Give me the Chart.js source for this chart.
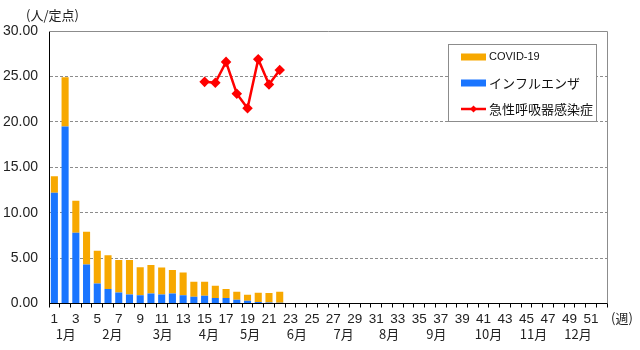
<!DOCTYPE html>
<html>
<head>
<meta charset="utf-8">
<script src="https://cdn.jsdelivr.net/npm/chart.js@4.4.1/dist/chart.umd.min.js"></script>
<style>
  html, body { margin: 0; padding: 0; background: #fff; }
  #wrap { width: 640px; height: 350px; }
</style>
</head>
<body>
<div id="wrap"><canvas id="chart" width="640" height="350"></canvas></div>
<script>
// weeks 1..52
const weeks = Array.from({ length: 52 }, (_, i) => String(i + 1));

// per-sentinel counts, weeks 1-22
const influenza = [12.2, 19.5, 7.8, 4.3, 2.2, 1.6, 1.2, 1.0, 0.9, 1.1, 1.0, 1.1, 0.9, 0.75, 0.85, 0.6, 0.6, 0.4, 0.3, 0.17, 0.1, 0.08];
const covid = [1.8, 5.4, 3.5, 3.6, 3.6, 3.7, 3.6, 3.8, 3.1, 3.15, 2.95, 2.6, 2.5, 1.65, 1.55, 1.35, 1.0, 0.9, 0.65, 1.0, 1.05, 1.2];

// acute respiratory infections, reported from week 15
const ariStartWeek = 15;
const ari = [24.4, 24.3, 26.6, 23.1, 21.5, 26.9, 24.1, 25.7];

const yTicks = [0, 5, 10, 15, 20, 25, 30];

// month names and the week they sit under
const months = ['1月', '2月', '3月', '4月', '5月', '6月', '7月', '8月', '9月', '10月', '11月', '12月'];
const monthAt = [2.06, 6.4, 11.1, 15.4, 19.25, 23.6, 27.95, 32.2, 36.6, 41.45, 45.65, 49.8];

const BLUE = '#1a75ff';
const ORANGE = '#f7a800';
const RED = '#ff0000';
const FONT = '"Liberation Sans", Arial, "Noto Sans CJK JP", sans-serif';
const JFONT = '"Noto Sans CJK JP", "Liberation Sans", sans-serif';

const ariData = weeks.map((w, i) => {
    const k = i + 1 - ariStartWeek;
    return k >= 0 && k < ari.length ? ari[k] : null;
});

// frame, month row, unit labels and the boxed legend
const decorations = {
    id: 'decorations',
    beforeDatasetsDraw(chart) {
        const { ctx, chartArea: a } = chart;
        ctx.save();
        ctx.strokeStyle = '#8c8c8c';
        ctx.lineWidth = 1;
        ctx.beginPath();
        ctx.moveTo(a.left, Math.round(a.top) + 0.5);
        ctx.lineTo(Math.round(a.right) + 0.5, Math.round(a.top) + 0.5);
        ctx.lineTo(Math.round(a.right) + 0.5, a.bottom);
        ctx.stroke();
        ctx.restore();
    },
    afterDraw(chart) {
        const { ctx } = chart;
        const x = chart.scales.x;
        ctx.save();
        ctx.fillStyle = '#222';
        ctx.textBaseline = 'middle';
        ctx.textAlign = 'center';
        ctx.font = '13px ' + JFONT;
        months.forEach((m, i) => {
            ctx.fillText(m, x.getPixelForValue(monthAt[i] - 1), 334);
        });
        ctx.textAlign = 'left';
        ctx.fillText('(週)', 611, 318);
        ctx.fillText('(人/定点)', 26, 15);

        // legend
        const lx = 448, ly = 44, lw = 148, lh = 77;
        ctx.fillStyle = '#fff';
        ctx.fillRect(lx, ly, lw, lh);
        ctx.strokeStyle = '#8c8c8c';
        ctx.lineWidth = 1;
        ctx.strokeRect(lx + 0.5, ly + 0.5, lw, lh);
        const items = [
            { label: chart.data.datasets[1].label, color: ORANGE, kind: 'bar', y: 56.5 },
            { label: chart.data.datasets[0].label, color: BLUE, kind: 'bar', y: 82.5 },
            { label: chart.data.datasets[2].label, color: RED, kind: 'line', y: 109 }
        ];
        items.forEach(it => {
            if (it.kind === 'bar') {
                ctx.fillStyle = it.color;
                ctx.fillRect(461, it.y - 3, 25, 7);
            } else {
                ctx.strokeStyle = it.color;
                ctx.lineWidth = 2.5;
                ctx.beginPath();
                ctx.moveTo(461, it.y);
                ctx.lineTo(486, it.y);
                ctx.stroke();
                ctx.fillStyle = it.color;
                ctx.beginPath();
                ctx.moveTo(473.5, it.y - 3.5);
                ctx.lineTo(477, it.y);
                ctx.lineTo(473.5, it.y + 3.5);
                ctx.lineTo(470, it.y);
                ctx.closePath();
                ctx.fill();
            }
            ctx.fillStyle = '#111';
            ctx.font = (it.label === 'COVID-19' ? '11px ' + FONT : '13px ' + JFONT);
            ctx.fillText(it.label, 489, it.y + 0.5);
        });
        ctx.restore();
    }
};

new Chart(document.getElementById('chart'), {
    type: 'bar',
    data: {
        labels: weeks,
        datasets: [
            { label: 'インフルエンザ', data: influenza, backgroundColor: BLUE, stack: 's', order: 2 },
            { label: 'COVID-19', data: covid, backgroundColor: ORANGE, stack: 's', order: 2 },
            {
                type: 'line', label: '急性呼吸器感染症', data: ariData, order: 1,
                borderColor: RED, backgroundColor: RED, borderWidth: 2.5,
                pointStyle: 'rectRot', pointRadius: 3.5, pointHoverRadius: 3.5,
                spanGaps: false, tension: 0
            }
        ]
    },
    options: {
        responsive: false,
        animation: false,
        devicePixelRatio: 1,
        layout: { padding: { top: 31, right: 33, left: 0, bottom: 0 } },
        datasets: { bar: { barPercentage: 0.66, categoryPercentage: 1 } },
        plugins: { legend: { display: false }, tooltip: { enabled: false } },
        scales: {
            x: {
                stacked: true,
                afterFit: s => { s.height = 46.5; },
                grid: { offset: true, drawOnChartArea: false, drawTicks: true, tickLength: 4, color: '#000' },
                border: { color: '#000', width: 1 },
                ticks: {
                    autoSkip: false, maxRotation: 0, padding: 4,
                    color: '#222', font: { size: 13.5, family: FONT },
                    callback: (v, i) => (i % 2 === 0 ? weeks[i] : '')
                }
            },
            y: {
                stacked: true,
                min: 0, max: 30,
                afterFit: s => { s.width = 49; },
                afterBuildTicks: s => { s.ticks = yTicks.map(v => ({ value: v })); },
                grid: {
                    drawTicks: false,
                    color: c => (c.tick.value === 0 || c.tick.value === 30 ? 'rgba(0,0,0,0)' : '#8c8c8c'),
                    lineWidth: 1
                },
                border: { color: '#000', width: 1, dash: [3, 2] },
                ticks: {
                    padding: 11, color: '#222', font: { size: 14, family: FONT },
                    callback: v => v.toFixed(2)
                }
            }
        }
    },
    plugins: [decorations]
});
</script>
</body>
</html>
